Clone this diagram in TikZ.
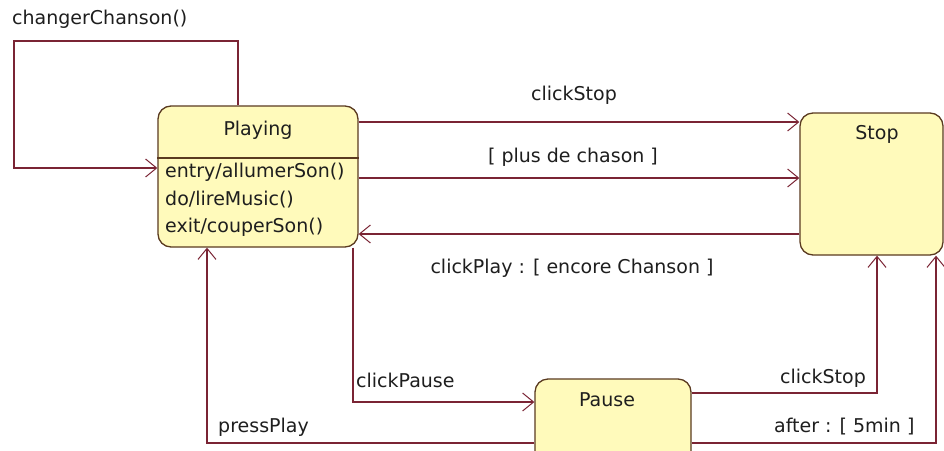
\documentclass[tikz,border=0pt]{standalone}
\usepackage{fontspec}
\setmainfont{DejaVu Sans}
\usetikzlibrary{arrows.meta}
\definecolor{boxfill}{HTML}{FFFABB}
\definecolor{boxdraw}{HTML}{5A3A20}
\definecolor{conncol}{HTML}{7A2434}
\definecolor{txt}{HTML}{1E1E1E}
\begin{document}
\begin{tikzpicture}[x=1pt,y=-1pt,
  state/.style={draw=boxdraw, fill=boxfill, line width=1.3pt, rounded corners=13pt, inner sep=0pt},
  conn/.style={draw=conncol, line width=1.4pt},
  arr/.style={conn, -{Straight Barb[length=11pt,width=18pt,line width=1pt]}},
  lbl/.style={font=\fontsize{19}{23}\selectfont, text=txt, inner sep=0pt},
]
\clip (0,0) rectangle (944,450);
\fill[white] (0,0) rectangle (944,450);

% states
\node[state, minimum width=200pt, minimum height=141pt] (playing) at (258,176.5) {};
\node[state, minimum width=143pt, minimum height=142pt] (stop) at (871.5,184) {};
\node[state, minimum width=156pt, minimum height=91pt] (pause) at (613,424.5) {};
\coordinate (div) at (0,158);
\draw[draw=boxdraw, line width=1.3pt] (playing.west |- div) -- (playing.east |- div);

% state texts
\node[lbl] (playingT) at (258,130) {Playing};
\node[lbl, anchor=west] (entryT) at (165,172) {entry/allumerSon()};
\node[lbl, anchor=west] (doT) at (165,200) {do/lireMusic()};
\node[lbl, anchor=west] (exitT) at (165,227) {exit/couperSon()};
\node[lbl] (stopT) at (877,134) {Stop};
\node[lbl] (pauseT) at (607,400) {Pause};

% connectors
\coordinate (loopA) at (238,41);
\coordinate (loopB) at (14,41);
\coordinate (loopC) at (14,168);
\draw[arr] (playing.north -| loopA) -- (loopA) -- (loopB) -- (loopC) -- (playing.west |- loopC);

\coordinate (r1) at (0,122);
\coordinate (r2) at (0,178);
\coordinate (r3) at (0,234);
\draw[arr] (playing.east |- r1) -- (stop.west |- r1);
\draw[arr] (playing.east |- r2) -- (stop.west |- r2);
\draw[arr] (stop.west |- r3) -- (playing.east |- r3);

\coordinate (p1) at (353,402);
\coordinate (p2) at (207,443);
\coordinate (p3) at (877,393);
\coordinate (p4) at (936,443);
\draw[arr] (playing.south -| p1) -- (p1) -- (pause.west |- p1);
\draw[arr] (pause.west |- p2) -- (p2) -- (playing.south -| p2);
\draw[arr] (pause.east |- p3) -- (p3) -- (stop.south -| p3);
\draw[arr] (pause.east |- p4) -- (p4) -- (stop.south -| p4);

% labels
\node[lbl, anchor=west] (lChanger) at (12,19) {changerChanson()};
\node[lbl] (lStop1) at (574,95) {clickStop};
\node[lbl] (lPlus) at (573,157) {[ plus de chason ]};
\node[lbl] (lPlay) at (572,268) {clickPlay : [ encore Chanson ]};
\node[lbl, anchor=west] (lPause) at (356,380) {clickPause};
\node[lbl, anchor=west] (lStop2) at (780,378) {clickStop};
\node[lbl, anchor=west] (lAfter) at (774,427) {after : [ 5min ]};
\node[lbl, anchor=west] (lPress) at (218,427) {pressPlay};
\end{tikzpicture}
\end{document}
